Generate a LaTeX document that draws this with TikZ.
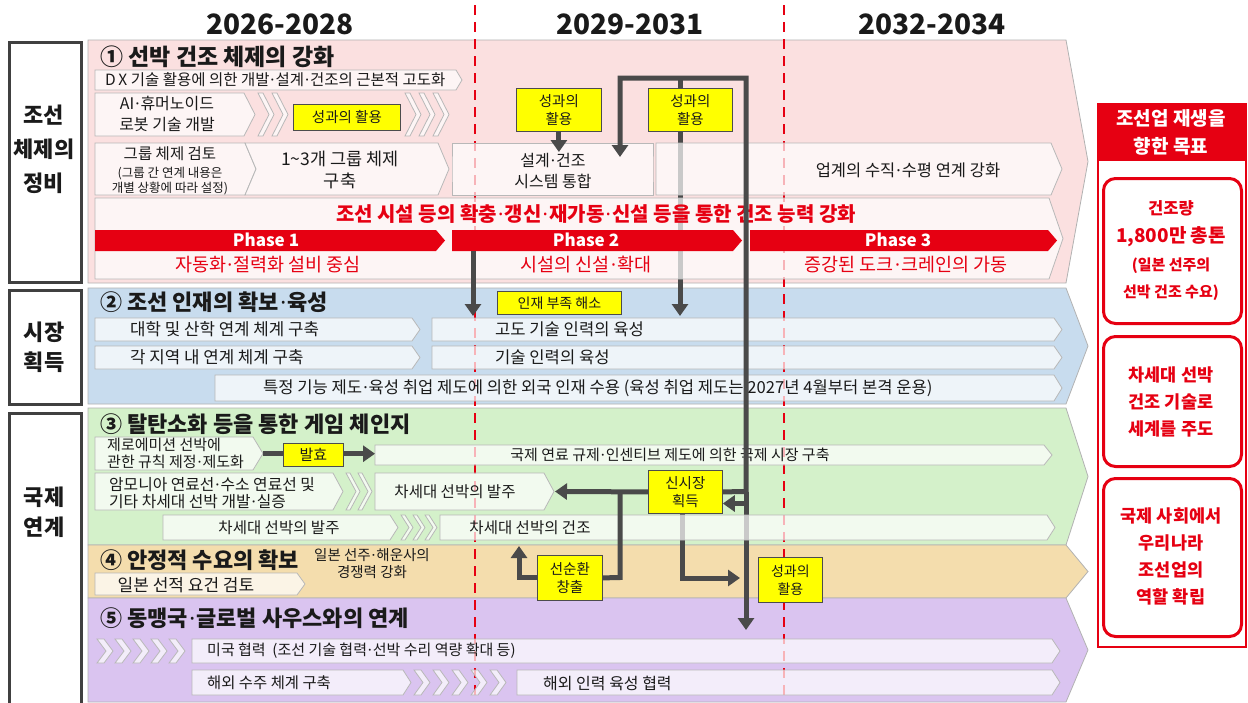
\documentclass[tikz,border=0pt]{standalone}
\usepackage{fontspec}
\setmainfont{Noto Sans CJK KR}
\newfontfamily\dotfnt{Noto Sans}
\newcommand\md{\kern0.06em{\dotfnt ·}\kern0.06em}
\usetikzlibrary{arrows.meta,calc}
\definecolor{pinkband}{HTML}{FBE0E0}
\definecolor{blueband}{HTML}{C8DCEE}
\definecolor{greenband}{HTML}{D4F1CA}
\definecolor{tanband}{HTML}{F4DDAD}
\definecolor{purpleband}{HTML}{DAC4F0}
\definecolor{redc}{HTML}{E60012}
\definecolor{arrowgray}{HTML}{4A4A4A}
\definecolor{ylw}{HTML}{FFFF00}
\definecolor{txtc}{HTML}{1A1A1A}
\newcommand\fsz[2]{\fontsize{#1}{#2}\selectfont}
\tikzset{
 bandsty/.style={draw=black!30, line width=0.8pt},
 wbox/.style={draw=black!28, fill=white, fill opacity=0.7, line width=0.8pt},
 phasesty/.style={fill=redc, fill opacity=1, draw=none},
 ybox/.style={draw=black!70, fill=ylw, line width=0.8pt, inner sep=0pt, anchor=north west, text=txtc, align=center},
 catbox/.style={draw=black!75, fill=white, line width=3pt, inner sep=0pt, anchor=north west},
 txt/.style={inner sep=0pt, text=txtc},
 redtxt/.style={inner sep=0pt, text=redc},
 darr/.style={draw=arrowgray, line width=5pt, -{Triangle[width=16pt,length=12pt]}},
 dline/.style={draw=arrowgray, line width=5pt},
 reddash/.style={draw=redc, line width=2pt, dash pattern=on 10pt off 7pt},
}
\newcommand\band[4]{%
  \path[bandsty, fill=#4] (88,#2) -- (1066,#2) -- (1088,{(#2+#3)/2}) -- (1066,#3) -- (88,#3) -- cycle;
  \node[name=#1, inner sep=0pt, minimum width=978pt, minimum height={(#3-#2)*1pt}, anchor=north west] at (88,#2) {};
}
\newcommand\abox[8][]{%
  \path[wbox,#1] (#3,#4) -- ({#5-#7},#4) -- (#5,{(#4+#6)/2}) -- ({#5-#7},#6) -- (#3,#6) -- ({#3+#8},{(#4+#6)/2}) -- cycle;
  \node[name=#2, inner sep=0pt, minimum width={(#5-#3)*1pt}, minimum height={(#6-#4)*1pt}, anchor=north west] at (#3,#4) {};
}
\newcommand\chevs[7]{%
  \foreach \ci in {1,...,#4}{%
    \pgfmathsetmacro\cx{#1+(\ci-1)*#5}%
    \path[wbox] (\cx,#2) -- ({\cx+#6},#2) -- ({\cx+#6+#7},{(#2+#3)/2}) -- ({\cx+#6},#3) -- (\cx,#3) -- ({\cx+#7},{(#2+#3)/2}) -- cycle;
  }%
}
\begin{document}
\begin{tikzpicture}[x=1pt,y=-1pt]
\useasboundingbox (0,0) rectangle (1248,702);
\fill[white] (0,0) rectangle (1248,702);

% ---------- year headings
\node[txt, name=h1, font=\fsz{28}{28}\bfseries] at (280,24) {2026-2028};
\node[txt, name=h2, font=\fsz{28}{28}\bfseries] at (630,24) {2029-2031};
\node[txt, name=h3, font=\fsz{28}{28}\bfseries] at (932,24) {2032-2034};

% ---------- bands
\band{b1}{40}{283}{pinkband}
\band{b2}{288}{404}{blueband}
\band{b3}{408}{545}{greenband}
\band{b4}{545}{598}{tanband}
\band{b5}{598}{702}{purpleband}

% ---------- category boxes
\node[catbox, name=cat1, minimum width=72pt, minimum height=240pt] at (8,41) {};
\node[catbox, name=cat2, minimum width=72pt, minimum height=114pt] at (8,289) {};
\node[catbox, name=cat3, minimum width=72pt, minimum height=300pt] at (8,412) {};
\node[txt, name=cat1t, font=\fsz{22}{34}\bfseries, align=center] at (44,149) {조선\\체제의\\정비};
\node[txt, name=cat2t, font=\fsz{22}{30}\bfseries, align=center] at (44,347) {시장\\획득};
\node[txt, name=cat3t, font=\fsz{22}{30}\bfseries, align=center] at (44,512) {국제\\연계};

% ---------- goal column
\node[name=goalframe, draw=redc, line width=2pt, inner sep=0pt, anchor=north west, minimum width=148pt, minimum height=543pt] at (1097,103) {};
\node[name=goalhead, fill=redc, inner sep=0pt, anchor=north west, minimum width=148pt, minimum height=58pt] at (1097,103) {};
\node[txt, name=goalheadt, text=white, font=\fsz{19}{28}\bfseries, align=center] at (1171,132) {조선업 재생을\\향한 목표};
\node[name=goalA, draw=redc, line width=3pt, rounded corners=12pt, inner sep=0pt, anchor=north west, minimum width=138pt, minimum height=145pt] at (1102,177) {};
\node[name=goalB, draw=redc, line width=3pt, rounded corners=12pt, inner sep=0pt, anchor=north west, minimum width=138pt, minimum height=130pt] at (1102,335) {};
\node[name=goalC, draw=redc, line width=3pt, rounded corners=12pt, inner sep=0pt, anchor=north west, minimum width=138pt, minimum height=158pt] at (1102,477) {};
\node[redtxt, name=gA1, font=\fsz{16.5}{16.5}\bfseries] at (1171,208) {건조량};
\node[redtxt, name=gA2, font=\fsz{19}{19}\bfseries] at (1171,237) {1,800만 총톤};
\node[redtxt, name=gA3, font=\fsz{15}{15}\bfseries] at (1171,266) {(일본 선주의};
\node[redtxt, name=gA4, font=\fsz{15}{15}\bfseries] at (1171,293) {선박 건조 수요)};
\node[redtxt, name=gBt, font=\fsz{17.5}{27}\bfseries, align=center] at (1171,402) {차세대 선박\\건조 기술로\\세계를 주도};
\node[redtxt, name=gCt, font=\fsz{17.5}{27}\bfseries, align=center] at (1171,556) {국제 사회에서\\우리나라\\조선업의\\역할 확립};

% ---------- red dashed period lines
\draw[reddash] (475,5) -- (475,702);
\draw[reddash] (784,5) -- (784,702);

% ---------- named free ends
\coordinate (br680) at (680,78);
\coordinate (b2in) at (680,316);
\coordinate (jR) at (746,491.5);
\coordinate (topR) at (746,78);
\coordinate (topL) at (620,78);
\coordinate (sysIn) at (620,157);
\coordinate (down5) at (746,630);
\coordinate (jL) at (620,491.5);
\coordinate (jL2) at (620,577.5);
\coordinate (ordTip) at (555,491.5);
\coordinate (buildIn) at (519,546);
\coordinate (l680) at (682,578);
\coordinate (toY8) at (740,578);
\coordinate (hook) at (748,503.5);
\coordinate (ph2out) at (473,251);
\coordinate (b2in2) at (473,316);

% ---------- connectors passing beneath the boxes
\draw[darr] (br680) -- (b2in);
\draw[darr] (jR) -- (down5);
\draw[darr] (682,513) -- (l680) -- (toY8);

% ---------- band 1 content
\node[txt, name=t1, anchor=west, font=\fsz{23}{23}\bfseries] at (100,57) {① 선박 건조 체제의 강화};
\abox{dx}{95}{70}{462}{90}{6}{0}
\node[txt, name=dxt, anchor=west, font=\fsz{15.5}{15.5}] at (105,80) {D\,X 기술 활용에 의한 개발\md 설계\md 건조의 근본적 고도화};
\abox{ai}{95}{93}{255}{136}{11}{0}
\node[txt, name=ait, font=\fsz{16}{21}, align=center] at (167,114) {AI\md 휴머노이드\\로봇 기술 개발};
\chevs{258}{93}{136}{2}{14}{5}{11}
\chevs{405}{93}{136}{3}{14}{5}{11}
\abox{grp}{95}{143}{256}{195}{11}{0}
\node[txt, name=grpt1, font=\fsz{15.5}{15.5}] at (170,154) {그룹 체제 검토};
\node[txt, name=grpt2, font=\fsz{12.5}{15}, align=center] at (170,181) {(그룹 간 연계 내용은\\개별 상황에 따라 설정)};
\abox{grp3}{245}{143}{449}{195}{11}{11}
\node[txt, name=grp3t, font=\fsz{17.5}{22}, align=center] at (340,170) {1\textasciitilde3개 그룹 체제\\구축};
\abox{sys}{452}{143}{653}{195}{0}{0}
\node[txt, name=syst, font=\fsz{16}{21}, align=center] at (553,171) {설계\md 건조\\시스템 통합};
\abox{vert}{656}{143}{1062}{195}{11}{0}
\node[txt, name=vertt, font=\fsz{16.5}{16.5}] at (908,170) {업계의 수직\md 수평 연계 강화};
\abox{phbox}{95}{198}{1063}{279}{14}{0}
\node[redtxt, name=bigred, font=\fsz{20}{20}\bfseries] at (596,214) {조선 시설 등의 확충\md 갱신\md 재가동\md 신설 등을 통한 건조 능력 강화};
\abox[phasesty]{ph1}{95}{230}{445}{251}{9}{0}
\abox[phasesty]{ph2}{452}{230}{742}{251}{9}{0}
\abox[phasesty]{ph3}{750}{230}{1057}{251}{9}{0}
\node[txt, name=ph1t, text=white, font=\fsz{17}{17}\bfseries] at (266,240) {Phase 1};
\node[txt, name=ph2t, text=white, font=\fsz{17}{17}\bfseries] at (586,240) {Phase 2};
\node[txt, name=ph3t, text=white, font=\fsz{17}{17}\bfseries] at (898,240) {Phase 3};
\node[redtxt, name=ph1s, font=\fsz{18.5}{18.5}] at (268,265) {자동화\md 절력화 설비 중심};
\node[redtxt, name=ph2s, font=\fsz{18.5}{18.5}] at (586,265) {시설의 신설\md 확대};
\node[redtxt, name=ph3s, font=\fsz{18.5}{18.5}] at (906,265) {증강된 도크\md 크레인의 가동};

% ---------- band 2 content
\node[txt, name=t2, anchor=west, font=\fsz{22}{22}\bfseries] at (100,302) {② 조선 인재의 확보\md 육성};
\abox{univ}{95}{318}{420}{341}{8}{0}
\abox{adv}{432}{318}{1062}{341}{8}{0}
\abox{reg}{95}{346}{420}{369}{8}{0}
\abox{tech}{432}{346}{1062}{369}{8}{0}
\abox{frn}{215}{375}{1062}{401}{8}{0}
\node[txt, name=univt, anchor=west, font=\fsz{16.8}{16.8}] at (130,329.5) {대학 및 산학 연계 체계 구축};
\node[txt, name=regt, anchor=west, font=\fsz{16.8}{16.8}] at (130,357.5) {각 지역 내 연계 체계 구축};
\node[txt, name=advt, anchor=west, font=\fsz{16.6}{16.6}] at (495,329.5) {고도 기술 인력의 육성};
\node[txt, name=techt, anchor=west, font=\fsz{16.6}{16.6}] at (495,357.5) {기술 인력의 육성};
\node[txt, name=frnt, anchor=west, font=\fsz{16.6}{16.6}] at (263,388) {특정 기능 제도\md 육성 취업 제도에 의한 외국 인재 수용 (육성 취업 제도는 2027년 4월부터 본격 운용)};

% ---------- band 3 content
\node[txt, name=t3, anchor=west, font=\fsz{22}{22}\bfseries] at (100,424) {③ 탈탄소화 등을 통한 게임 체인지};
\abox{zero}{95}{437}{263}{470}{10}{0}
\node[txt, name=zerot, anchor=west, font=\fsz{15}{17}, align=left] at (107,453.5) {제로에미션 선박에\\관한 규칙 제정\md 제도화};
\abox{fuel}{375}{445}{1052}{465}{8}{0}
\node[txt, name=fuelt, font=\fsz{15}{15}] at (670,455) {국제 연료 규제\md 인센티브 제도에 의한 국제 시장 구축};
\abox{amm}{95}{473}{343}{510}{10}{0}
\node[txt, name=ammt, anchor=west, font=\fsz{15.8}{17.5}, align=left] at (109,493) {암모니아 연료선\md 수소 연료선 및\\기타 차세대 선박 개발\md 실증};
\chevs{346}{473}{510}{2}{12}{4}{10}
\abox{ord1}{375}{473}{554}{510}{10}{0}
\node[txt, name=ord1t, font=\fsz{15.5}{15.5}] at (455,492) {차세대 선박의 발주};
\abox{ord2}{163}{515}{398}{540}{8}{0}
\node[txt, name=ord2t, font=\fsz{15.5}{15.5}] at (279,528) {차세대 선박의 발주};
\chevs{401}{515}{540}{3}{12}{4}{8}
\abox{build}{440}{515}{1055}{540}{8}{0}
\node[txt, name=buildt, font=\fsz{15.5}{15.5}] at (530,528) {차세대 선박의 건조};

% ---------- band 4 content
\node[txt, name=t4, anchor=west, font=\fsz{22}{22}\bfseries] at (100,560) {④ 안정적 수요의 확보};
\node[txt, name=t4s, font=\fsz{14.5}{17}, align=center] at (372,564) {일본 선주\md 해운사의\\경쟁력 강화};
\abox{flag}{95}{573}{305}{595}{8}{0}
\node[txt, name=flagt, font=\fsz{17}{17}] at (186,585) {일본 선적 요건 검토};

% ---------- band 5 content
\node[txt, name=t5, anchor=west, font=\fsz{22}{22}\bfseries] at (100,618) {⑤ 동맹국\md 글로벌 사우스와의 연계};
\chevs{97}{639}{663}{5}{18}{7}{9}
\abox{us}{192}{639}{1060}{663}{8}{0}
\node[txt, name=ust, anchor=west, font=\fsz{15}{15}] at (207,651) {미국 협력 \ (조선 기술 협력\md 선박 수리 역량 확대 등)};
\abox{ovs}{192}{670}{411}{695}{8}{0}
\node[txt, name=ovst, anchor=west, font=\fsz{15.4}{15.4}] at (207,683) {해외 수주 체계 구축};
\chevs{414}{670}{695}{5}{19}{7}{9}
\abox{hr}{517}{670}{1060}{695}{8}{0}
\node[txt, name=hrt, anchor=west, font=\fsz{16}{16}] at (543,683) {해외 인력 육성 협력};

% ---------- yellow label boxes (nodes for connectors)
\node[ybox, name=y6, font=\fsz{14.5}{18}, minimum width=74pt, minimum height=43pt] at (648,470) {신시장\\획득};
\node[ybox, name=y7, font=\fsz{14.5}{18}, minimum width=65pt, minimum height=45pt] at (537,555) {선순환\\창출};

% ---------- connectors on top
\draw[darr] (y6.east) -- (jR) -- (topR) -- (topL) -- (sysIn);
\draw[darr] (y6.west) -- (ordTip);
\draw[dline] (jL) -- (jL2) -- (y7.east);
\draw[darr] (y7.west) -| (buildIn);
\draw[darr] (hook) -- (y6.east |- hook);
\draw[darr] (ph2out) -- (b2in2);
\draw[darr] (zero.east) -- (zero.east -| fuel.west);

% ---------- remaining yellow boxes
\node[ybox, name=y1, font=\fsz{14.5}{14.5}, minimum width=107pt, minimum height=26pt] at (293,104) {성과의 활용};
\node[ybox, name=y2, font=\fsz{14.5}{18}, minimum width=85pt, minimum height=43pt] at (516,88) {성과의\\활용};
\node[ybox, name=y3, font=\fsz{14.5}{18}, minimum width=84pt, minimum height=43pt] at (648,88) {성과의\\활용};
\node[ybox, name=y4, font=\fsz{14}{14}, minimum width=124pt, minimum height=23pt] at (497,291) {인재 부족 해소};
\node[ybox, name=y5, font=\fsz{15}{15}, minimum width=60pt, minimum height=23pt] at (283,443) {발효};
\node[ybox, name=y8, font=\fsz{14}{18}, minimum width=64pt, minimum height=45pt] at (758,557) {성과의\\활용};
\draw[darr] (y2.south) -- ([yshift=-9pt]y2.south |- sys.north);
\end{tikzpicture}
\end{document}
